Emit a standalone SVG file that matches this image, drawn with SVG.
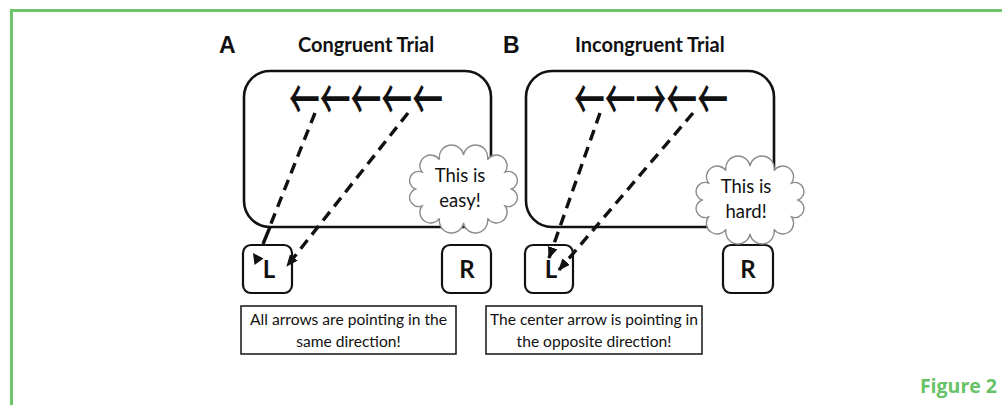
<svg xmlns="http://www.w3.org/2000/svg" width="1002" height="405" viewBox="0 0 1002 405">
<style>
.frame{fill:#fff;stroke:#111;stroke-width:2.6}
.key{fill:#fff;stroke:#111;stroke-width:2.2}
.note{fill:#fff;stroke:#222;stroke-width:1.6}
.cloud{fill:#fff;stroke:#8c8c8c;stroke-width:1.4}
.dash{fill:none;stroke:#111;stroke-width:3.4;stroke-dasharray:11 7}
.solid{fill:none;stroke:#111;stroke-width:3.4}
.title{font-family:Lato,"Liberation Sans",sans-serif;font-weight:bold;font-size:20px;fill:#111}
.letter{font-family:"Liberation Sans",Arial,sans-serif;font-weight:bold;font-size:23px;fill:#111}
.key-t{font-family:Lato,"Liberation Sans",sans-serif;font-weight:bold;font-size:24px;fill:#111;text-anchor:middle}
.body{font-family:Lato,"Liberation Sans",sans-serif;font-size:15.6px;fill:#111;text-anchor:middle}
.think{font-family:Lato,"Liberation Sans",sans-serif;font-size:18.5px;fill:#111;text-anchor:middle}
.arrows{font-family:"Noto Sans CJK JP","Noto Sans CJK SC",sans-serif;font-weight:500;font-size:58px;fill:#111}
.fig{font-family:"Open Sans",Lato,sans-serif;font-weight:bold;font-size:19.5px;fill:#66c266;text-anchor:end}
</style>
<defs>
<marker id="ah" markerUnits="userSpaceOnUse" markerWidth="12" markerHeight="10" refX="11" refY="5" orient="auto">
<path d="M0,0 L12,5 L0,10 z" fill="#111"/>
</marker>
<path id="cloudShape" d="M48,0 A9,9 0 0 1 41.6,17 A9,9 0 0 1 24,29.4 A9,9 0 0 1 0,34 A9,9 0 0 1 -24,29.4 A9,9 0 0 1 -41.6,17 A9,9 0 0 1 -48,0 A9,9 0 0 1 -41.6,-17 A9,9 0 0 1 -24,-29.4 A9,9 0 0 1 0,-34 A9,9 0 0 1 24,-29.4 A9,9 0 0 1 41.6,-17 A9,9 0 0 1 48,0 Z"/>
</defs>
<rect width="1002" height="405" fill="#fff"/>
<g id="border">
<path d="M11.5,405 L11.5,10.5 L1002,10.5" fill="none" stroke="#6cc56b" stroke-width="3"/>
</g>

<g id="panelA">
<text class="letter" x="219" y="53">A</text>
<text class="title" x="298" y="52">Congruent Trial</text>
<rect class="frame" x="244" y="71" width="247" height="156" rx="26"/>
<text class="arrows" transform="translate(289,121) scale(0.531,1)" x="0" y="0">←←←←←</text>
</g>
<g id="panelB">
<text class="letter" x="503" y="53">B</text>
<text class="title" x="575" y="52">Incongruent Trial</text>
<rect class="frame" x="526" y="71" width="248" height="156" rx="26"/>
<text class="arrows" transform="translate(574,121) scale(0.531,1)" x="0" y="0">←←→←←</text>
</g>

<g id="keyLA"><rect class="key" x="243" y="245" width="49" height="48" rx="8"/><text class="key-t" x="269" y="278">L</text></g>
<g id="keyRA"><rect class="key" x="442" y="245" width="49" height="48" rx="8"/><text class="key-t" x="467" y="278">R</text></g>
<g id="keyLB"><rect class="key" x="525" y="245" width="48" height="48" rx="8"/><text class="key-t" x="551" y="278">L</text></g>
<g id="keyRB"><rect class="key" x="723" y="245" width="50" height="48" rx="8"/><text class="key-t" x="748" y="278">R</text></g>

<g id="connectors">
<path class="dash" d="M315,113 L270,226"/>
<path class="solid" d="M270,227 L263,244"/>
<path d="M253,253 L263.5,258.5 L254.5,265 z" fill="#111"/>
<path class="dash" d="M408,113 L287,266" marker-end="url(#ah)"/>
<path class="dash" d="M600,113 L549,258" marker-end="url(#ah)"/>
<path class="dash" d="M693,113 L559,270" marker-end="url(#ah)"/>
</g>

<g id="cloudA">
<use href="#cloudShape" class="cloud" transform="translate(463.5,189)"/>
<text class="think" x="460" y="182">This is</text>
<text class="think" x="460" y="207">easy!</text>
</g>
<g id="cloudB">
<use href="#cloudShape" class="cloud" transform="translate(750,200)"/>
<text class="think" x="746" y="193">This is</text>
<text class="think" x="746" y="218">hard!</text>
</g>

<g id="noteA">
<rect class="note" x="241" y="306" width="215" height="48"/>
<text class="body" x="348.5" y="325">All arrows are pointing in the</text>
<text class="body" x="348.5" y="347">same direction!</text>
</g>
<g id="noteB">
<rect class="note" x="486" y="306" width="216" height="48"/>
<text class="body" x="594" y="325">The center arrow is pointing in</text>
<text class="body" x="594" y="347">the opposite direction!</text>
</g>

<text class="fig" x="997" y="393">Figure 2</text>
</svg>
